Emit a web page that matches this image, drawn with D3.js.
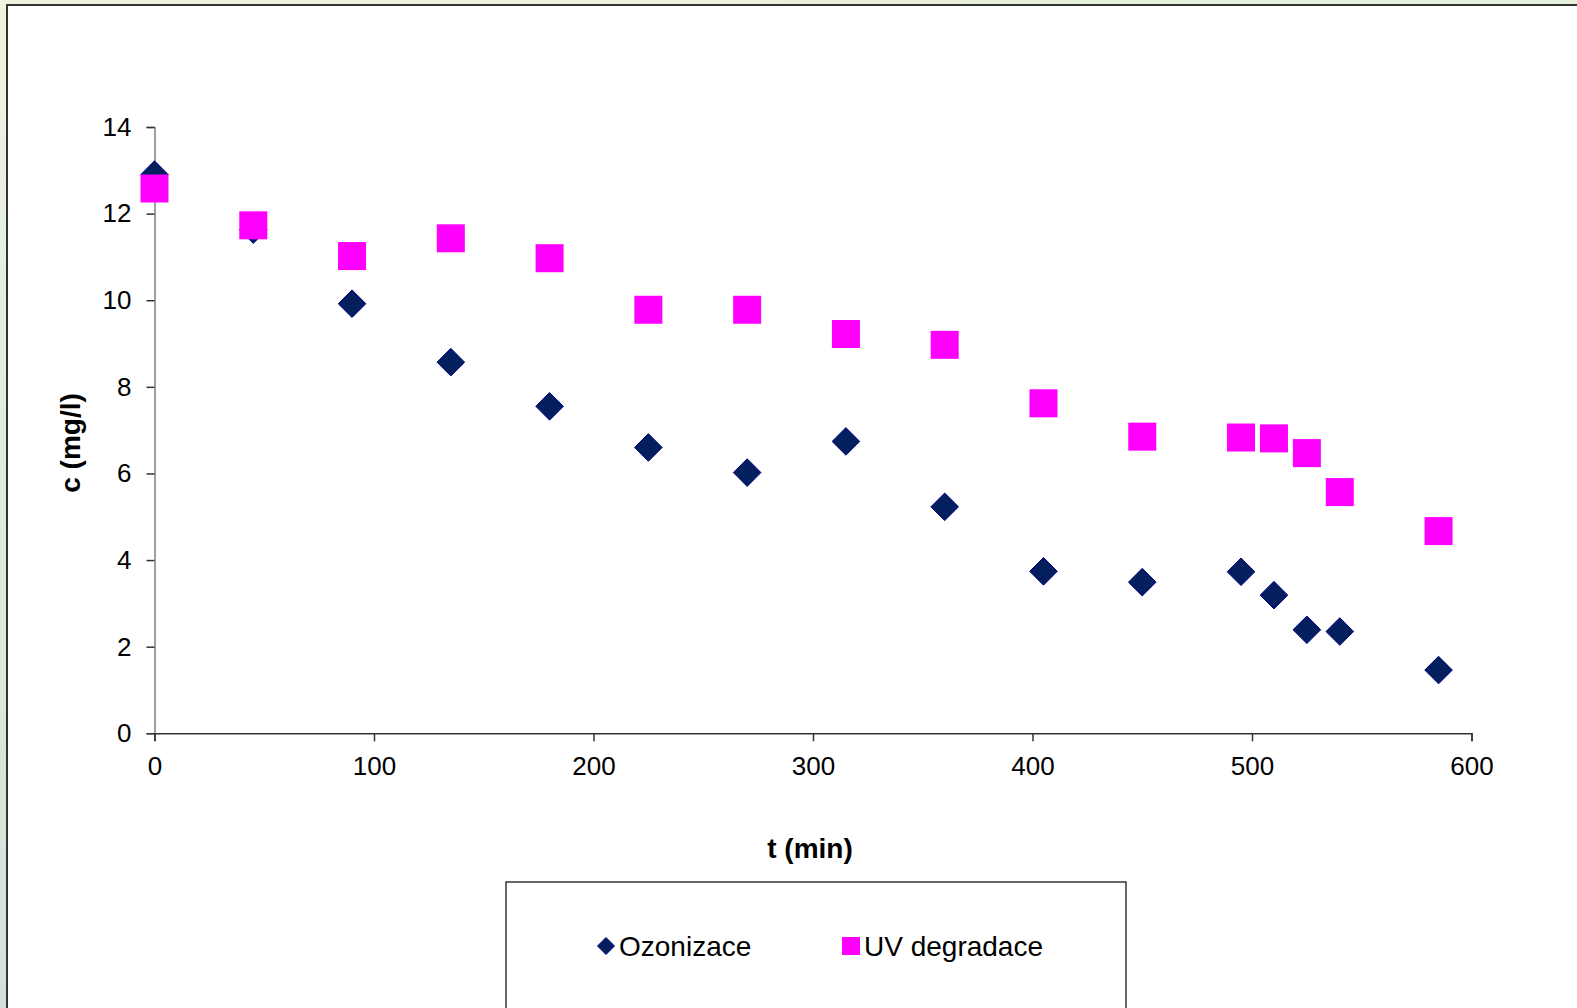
<!DOCTYPE html>
<html>
<head>
<meta charset="utf-8">
<script src="https://cdn.jsdelivr.net/npm/d3@7"></script>
<style>
  html, body { margin: 0; padding: 0; overflow: hidden; }
  body { font-family: "Liberation Sans", Arial, sans-serif; }
</style>
</head>
<body>
<div id="chart"></div>
<script>
//////////////////////////////////////////////////////////////
//////////////////////// Data ////////////////////////////////
//////////////////////////////////////////////////////////////

//time in minutes
var times = [0, 45, 90, 135, 180, 225, 270, 315, 360, 405, 450, 495, 510, 525, 540, 585];
//c (mg/l) per series
var ozonizace = [12.9, 11.63, 9.92, 8.57, 7.55, 6.6, 6.02, 6.74, 5.23, 3.74, 3.49, 3.73, 3.19, 2.39, 2.35, 1.46];
var uvDegradace = [12.58, 11.73, 11.02, 11.43, 10.97, 9.78, 9.78, 9.22, 8.97, 7.62, 6.85, 6.83, 6.81, 6.47, 5.57, 4.67];

var seriesNames = ["Ozonizace", "UV degradace"];
var xTicks = [0, 100, 200, 300, 400, 500, 600],
    yTicks = [0, 2, 4, 6, 8, 10, 12, 14];

//////////////////////////////////////////////////////////////
//////////////////////// Setup ///////////////////////////////
//////////////////////////////////////////////////////////////

var width = 1577, height = 1008;
var plot = {left: 154.5, right: 1471.5, top: 127, bottom: 733.3};

var svg = d3.select("#chart").append("svg")
    .attr("width", width)
    .attr("height", height)
    .style("display", "block");

//greenish slide background
var defs = svg.append("defs");
var grad = defs.append("linearGradient")
    .attr("id", "bgGrad")
    .attr("x1", "0").attr("y1", "0").attr("x2", "0.3").attr("y2", "1");
grad.append("stop").attr("offset", "0%").attr("stop-color", "#eef4df");
grad.append("stop").attr("offset", "100%").attr("stop-color", "#cfe0d9");

svg.append("rect")
    .attr("width", width).attr("height", height)
    .attr("fill", "url(#bgGrad)");

//white chart panel, running off the right and bottom edge
svg.append("rect")
    .attr("x", 7).attr("y", 5)
    .attr("width", width + 20).attr("height", height + 20)
    .attr("fill", "#ffffff")
    .attr("stroke", "#333333")
    .attr("stroke-width", 2);

var x = d3.scaleLinear().domain([0, 600]).range([plot.left, plot.right]);
var y = d3.scaleLinear().domain([0, 14]).range([plot.bottom, plot.top]);

//////////////////////////////////////////////////////////////
//////////////////////// Axes ////////////////////////////////
//////////////////////////////////////////////////////////////

var yAxis = svg.append("g")
    .attr("transform", "translate(" + plot.left + ",0)")
    .call(d3.axisLeft(y).tickValues(yTicks).tickSize(8).tickPadding(15).tickFormat(d3.format("d")));
yAxis.select(".domain").attr("stroke", "#808080").attr("stroke-width", 1.5);
yAxis.selectAll(".tick line").attr("stroke", "#333").attr("stroke-width", 1.5);

var xAxis = svg.append("g")
    .attr("transform", "translate(0," + plot.bottom + ")")
    .call(d3.axisBottom(x).tickValues(xTicks).tickSize(8).tickPadding(15).tickFormat(d3.format("d")));
xAxis.select(".domain").attr("stroke", "#333").attr("stroke-width", 1.5);
xAxis.selectAll(".tick line").attr("stroke", "#333").attr("stroke-width", 1.5);

svg.selectAll(".tick text")
    .attr("fill", "#000")
    .style("font-family", "'Liberation Sans', Arial, sans-serif")
    .style("font-size", "26px");

//axis titles
svg.append("text")
    .attr("transform", "translate(80,443) rotate(-90)")
    .attr("text-anchor", "middle")
    .style("font-size", "28px")
    .style("font-weight", "bold")
    .text("c (mg/l)");

svg.append("text")
    .attr("x", 810)
    .attr("y", 858)
    .attr("text-anchor", "middle")
    .style("font-size", "28px")
    .style("font-weight", "bold")
    .text("t (min)");

//////////////////////////////////////////////////////////////
//////////////////////// Markers /////////////////////////////
//////////////////////////////////////////////////////////////

function diamondPath(h) {
  return "M0," + (-h) + "L" + h + ",0L0," + h + "L" + (-h) + ",0Z";
}

var diamondColor = "#041f5e",
    squareColor = "#ff00ff";

svg.append("g").selectAll("path")
    .data(times.map(function(t, i) { return {t: t, c: ozonizace[i]}; }))
  .enter().append("path")
    .attr("d", diamondPath(13.8))
    .attr("transform", function(d) { return "translate(" + x(d.t) + "," + y(d.c) + ")"; })
    .attr("fill", diamondColor)
    .attr("stroke", "#000080")
    .attr("stroke-width", 1);

var sq = 28;
svg.append("g").selectAll("rect")
    .data(times.map(function(t, i) { return {t: t, c: uvDegradace[i]}; }))
  .enter().append("rect")
    .attr("x", function(d) { return x(d.t) - sq / 2; })
    .attr("y", function(d) { return y(d.c) - sq / 2; })
    .attr("width", sq)
    .attr("height", sq)
    .attr("fill", squareColor);

//////////////////////////////////////////////////////////////
//////////////////////// Legend //////////////////////////////
//////////////////////////////////////////////////////////////

var legend = svg.append("g");
legend.append("rect")
    .attr("x", 506).attr("y", 882)
    .attr("width", 620).attr("height", 200)
    .attr("fill", "#fff")
    .attr("stroke", "#333")
    .attr("stroke-width", 1.5);

legend.append("path")
    .attr("d", diamondPath(8.5))
    .attr("transform", "translate(606,946)")
    .attr("fill", diamondColor)
    .attr("stroke", "#000080");
legend.append("text")
    .attr("x", 619).attr("y", 956)
    .style("font-size", "28px")
    .text(seriesNames[0]);

legend.append("rect")
    .attr("x", 842).attr("y", 937)
    .attr("width", 18).attr("height", 18)
    .attr("fill", squareColor);
legend.append("text")
    .attr("x", 864).attr("y", 956)
    .style("font-size", "28px")
    .text(seriesNames[1]);
</script>
</body>
</html>
